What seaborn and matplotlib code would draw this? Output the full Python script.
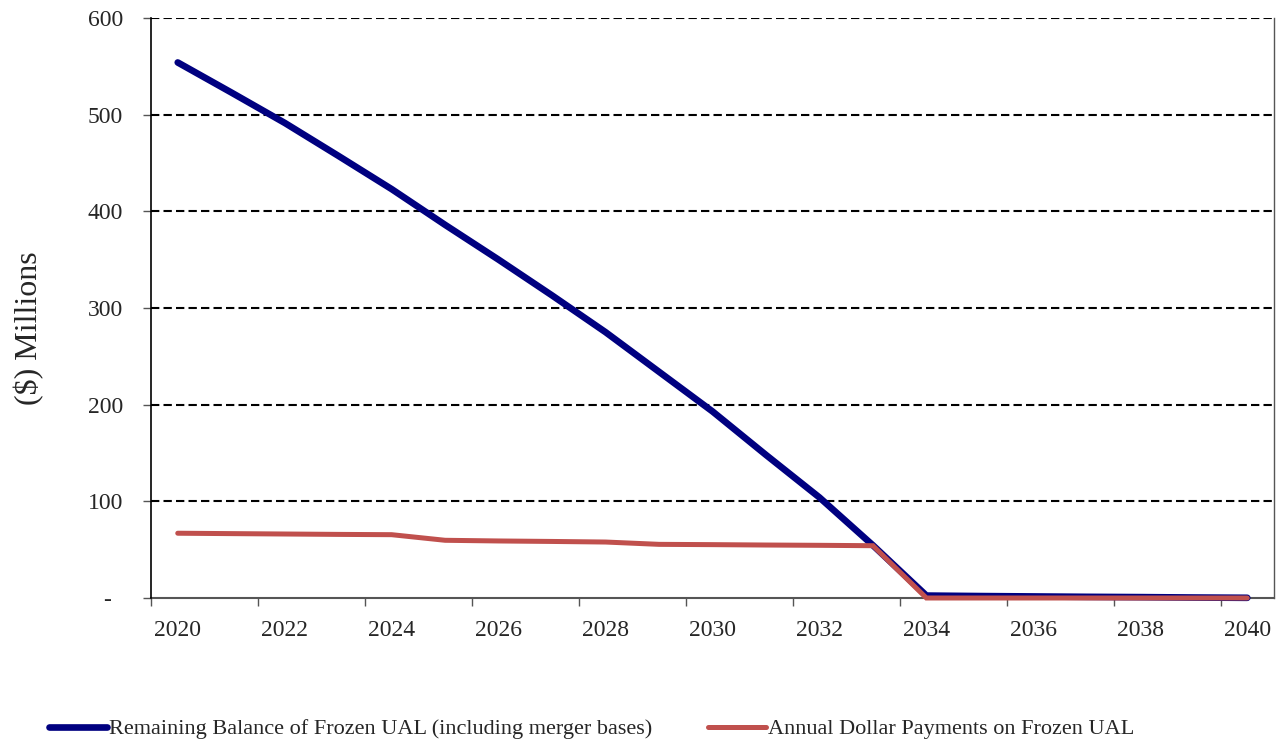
import matplotlib
matplotlib.use("Agg")
import matplotlib.pyplot as plt
from matplotlib.ticker import FixedLocator, NullFormatter
import seaborn as sns
import pandas as pd

years = list(range(2020, 2041))
remaining_balance = [554, 523, 491.5, 457.5, 423, 386, 350, 313, 275, 234,
                     193, 148, 104, 54.5, 2.5, 2, 1.6, 1.2, 0.9, 0.5, 0.2]
annual_payments = [67, 66.6, 66.2, 65.8, 65.5, 59.7, 59, 58.5, 57.9, 55.5,
                   55.2, 54.8, 54.5, 54.1, 0, 0, 0, 0, 0, 0, 0]
series_names = ["Remaining Balance of Frozen UAL (including merger bases)",
                "Annual Dollar Payments on Frozen UAL"]
y_ticks = [0, 100, 200, 300, 400, 500, 600]
y_tick_labels = ["-  ", "100", "200", "300", "400", "500", "600"]
x_label_years = list(range(2020, 2041, 2))

df = pd.DataFrame({
    "Year": years * 2,
    "Value": remaining_balance + annual_payments,
    "Series": [series_names[0]] * len(years) + [series_names[1]] * len(years),
})

sns.set_style("white")
plt.rcParams["font.family"] = ["Liberation Serif", "DejaVu Serif"]

fig = plt.figure(figsize=(12.83, 7.40), dpi=100)
ax = fig.add_axes([151 / 1283, 1 - 598 / 740, (1274 - 151) / 1283, (598 - 18) / 740])

palette = {series_names[0]: "#000080", series_names[1]: "#C0504D"}
sns.lineplot(data=df, x="Year", y="Value", hue="Series", palette=palette,
             ax=ax, legend=False, zorder=3)
lines = ax.get_lines()
lines[0].set_linewidth(4.8)
lines[1].set_linewidth(3.6)
for ln in lines:
    ln.set_solid_capstyle("round")
    ln.set_solid_joinstyle("miter")
    ln.set_clip_on(False)

ax.set_xlim(2019.5, 2040.5)
ax.set_ylim(0, 600)

# horizontal dashed gridlines
for yv in y_ticks[1:]:
    ax.axhline(yv, color="black", lw=1.5, dashes=(4, 2), zorder=1)

ax.set_yticks(y_ticks)
ax.set_yticklabels(y_tick_labels)

# tick marks between category pairs, labels centred on the categories
ax.xaxis.set_major_locator(FixedLocator([y - 0.5 for y in x_label_years]))
ax.xaxis.set_major_formatter(NullFormatter())
ax.xaxis.set_minor_locator(FixedLocator(x_label_years))
ax.set_xticklabels([str(y) for y in x_label_years], minor=True)
ax.tick_params(axis="x", which="major", direction="out", length=6, width=1,
               color="#555555", bottom=True)
ax.tick_params(axis="x", which="minor", length=0, labelsize=17, pad=16, bottom=True)
ax.tick_params(axis="y", direction="out", length=6, width=1, color="#555555",
               labelsize=17, pad=14, left=True)

ax.set_xlabel("")
ax.set_ylabel("($) Millions", fontsize=23)
ax.yaxis.set_label_coords(-0.095, 0.4655)

ax.spines["top"].set_visible(False)
ax.spines["left"].set_color("black")
ax.spines["left"].set_linewidth(1.2)
ax.spines["bottom"].set_color("#555555")
ax.spines["bottom"].set_linewidth(1.5)
ax.spines["bottom"].set_zorder(2)
ax.spines["right"].set_color("#555555")
ax.spines["right"].set_linewidth(1.0)

handles = [plt.Line2D([], [], color="#000080", lw=4.8, solid_capstyle="round"),
           plt.Line2D([], [], color="#C0504D", lw=3.6, solid_capstyle="round")]
fig.legend(handles, series_names, loc="center", bbox_to_anchor=(0.461, 1 - 729 / 740),
           ncol=2, frameon=False, fontsize=16, handlelength=2.6,
           handletextpad=0.1, columnspacing=2.5)

fig.savefig("out.png", dpi=100, facecolor="white")
